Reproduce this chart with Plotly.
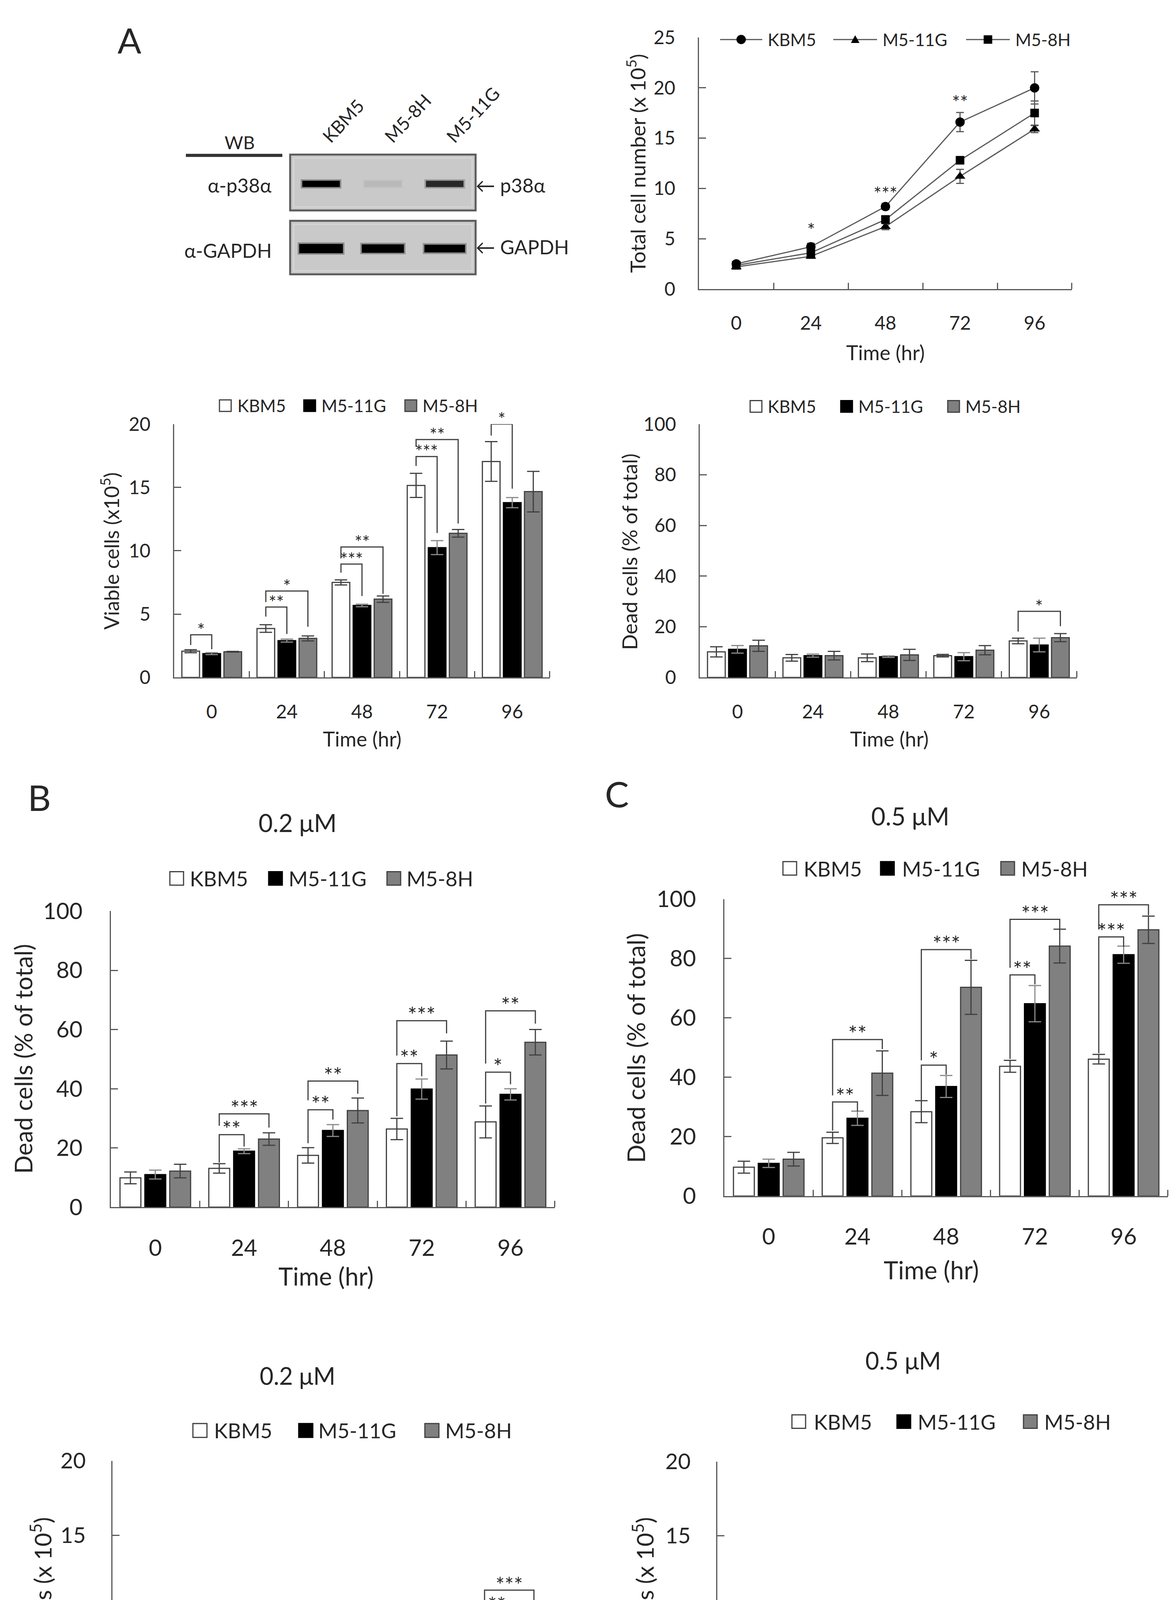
import plotly.graph_objects as go

W, H = 3009, 4775
FONT = "Lato"
INK = "#262626"
AXC = "#595959"

times = ["0", "24", "48", "72", "96"]
cells = ["KBM5", "M5-11G", "M5-8H"]
lanes = ["KBM5", "M5-8H", "M5-11G"]

# western blot: relative band strength per lane
p38_band = [1.0, 0.06, 0.75]
gapdh_band = [1.0, 1.0, 1.0]

# total cell number (x 10^5)
total_mean = [[2.5, 4.2, 8.2, 16.6, 20.0],
              [2.2, 3.25, 6.2, 11.2, 15.9],
              [2.35, 3.6, 6.9, 12.8, 17.5]]
total_err = [[0.2, 0.35, 0.3, 0.95, 1.6],
             [0.15, 0.2, 0.3, 0.7, 0.35],
             [0.2, 0.3, 0.4, 0.35, 1.2]]
total_sig = [(1, 6.2, "*"), (2, 9.8, "***"), (3, 18.9, "**")]

# viable cells, untreated (x10^5)
viable_mean = [[2.07, 3.86, 7.5, 15.16, 17.05],
               [1.88, 2.91, 5.68, 10.25, 13.8],
               [2.03, 3.08, 6.18, 11.38, 14.67]]
viable_err = [[0.12, 0.3, 0.2, 0.95, 1.57],
              [0.08, 0.12, 0.1, 0.55, 0.4],
              [0.03, 0.2, 0.25, 0.3, 1.6]]
# (time index, compared bar, bracket top, left leg end, right leg end, label)
viable_sig = [(0, 1, 3.37, 2.56, 2.23, "*"), (1, 1, 5.56, 4.8, 3.43, "**"),
              (1, 2, 6.82, 5.95, 4.0, "*"), (2, 1, 8.95, 8.27, 6.43, "***"),
              (2, 2, 10.3, 9.4, 6.6, "**"), (3, 1, 17.44, 16.7, 11.4, "***"),
              (3, 2, 18.78, 18.2, 12.15, "**"), (4, 1, 20.0, 19.1, 14.9, "*")]

# dead cells, untreated (% of total)
dead_mean = [[10.1, 7.75, 7.75, 8.6, 14.4],
             [11.1, 8.6, 8.2, 8.2, 12.8],
             [12.5, 8.6, 8.9, 10.75, 15.7]]
dead_err = [[2.0, 1.3, 1.5, 0.5, 1.1],
            [1.5, 0.6, 0.3, 1.6, 2.7],
            [2.2, 1.7, 2.2, 1.8, 1.6]]
dead_sig = [(4, 2, 26.1, 18.1, 20.25, "*")]

# dead cells, 0.2 uM
dead02_mean = [[9.9, 13.1, 17.5, 26.4, 28.8],
               [11.0, 18.9, 25.9, 39.9, 38.1],
               [12.2, 23.0, 32.65, 51.4, 55.7]]
dead02_err = [[2.0, 1.6, 2.6, 3.6, 5.4],
              [1.5, 0.8, 2.0, 3.4, 1.9],
              [2.3, 2.1, 4.2, 4.7, 4.3]]
dead02_sig = [(1, 1, 24.5, 15.1, 20.5, "**"), (1, 2, 31.5, 27.5, 26.9, "***"),
              (2, 1, 32.9, 21.6, 29.6, "**"), (2, 2, 42.6, 36.1, 38.3, "**"),
              (3, 1, 48.5, 30.7, 44.2, "**"), (3, 2, 63.0, 51.2, 58.7, "***"),
              (4, 1, 45.6, 35.0, 41.5, "*"), (4, 2, 66.3, 48.5, 62.0, "**")]

# dead cells, 0.5 uM
dead05_mean = [[9.7, 19.6, 28.4, 43.7, 46.1],
               [11.0, 26.2, 36.9, 64.8, 81.3],
               [12.4, 41.4, 70.3, 84.2, 89.7]]
dead05_err = [[2.0, 1.9, 3.7, 2.0, 1.6],
              [1.4, 2.4, 3.7, 6.1, 2.9],
              [2.3, 7.5, 9.1, 5.7, 4.6]]
dead05_sig = [(1, 1, 31.7, 22.0, 28.5, "**"), (1, 2, 52.7, 33.9, 49.5, "**"),
              (2, 1, 44.1, 32.3, 40.9, "*"), (2, 2, 83.0, 45.7, 79.8, "***"),
              (3, 1, 74.5, 46.2, 71.3, "**"), (3, 2, 93.2, 76.9, 89.8, "***"),
              (4, 1, 87.3, 48.1, 83.9, "***"), (4, 2, 98.1, 89.8, 94.6, "***")]

# viable cells, 0.2 uM
viable02_mean = [[2.16, 3.3, 5.36, 6.95, 7.86],
                 [1.95, 2.57, 3.48, 3.48, 4.09],
                 [2.11, 2.57, 3.23, 2.98, 2.57]]
viable02_err = [[0.05, 0.34, 0.45, 0.2, 1.12],
                [0.08, 0.07, 0.15, 0.5, 0.3],
                [0.02, 0.05, 0.05, 0.15, 0.1]]
viable02_sig = [(0, 1, 3.3, 2.57, 2.23, "*"), (1, 1, 4.66, 3.93, 2.9, "**"),
                (1, 2, 5.98, 5.3, 3.0, "**"), (2, 1, 6.73, 6.1, 4.05, "***"),
                (2, 2, 8.1, 7.34, 3.64, "***"), (3, 1, 8.18, 7.57, 4.16, "***"),
                (3, 2, 9.61, 8.93, 3.36, "***"), (4, 1, 9.95, 9.05, 4.5, "**"),
                (4, 2, 11.3, 10.5, 2.9, "***")]

# viable cells, 0.5 uM
viable05_mean = [[2.12, 2.96, 3.6, 3.55, 3.42],
                 [1.94, 2.12, 2.28, 1.55, 0.8],
                 [2.12, 1.89, 1.14, 0.75, 0.46]]
viable05_err = [[0.05, 0.25, 0.3, 0.74, 0.1],
                [0.07, 0.05, 0.25, 0.18, 0.07],
                [0.02, 0.28, 0.43, 0.25, 0.15]]
viable05_sig = [(0, 1, 3.21, 2.57, 2.23, "*"), (1, 1, 4.21, 3.6, 2.46, "**"),
                (1, 2, 5.6, 4.85, 2.28, "**"), (2, 1, 5.01, 4.28, 3.03, "**"),
                (2, 2, 6.4, 5.65, 1.89, "***"), (3, 1, 5.26, 4.51, 1.78, "**"),
                (3, 2, 6.63, 5.88, 1.09, "**"), (4, 1, 4.67, 3.94, 1.14, "***"),
                (4, 2, 6.06, 5.31, 0.91, "***")]

BAR_W = 0.235
OFFS = [-0.28, 0.0, 0.28]
FILLS = ["white", "black", "#808080"]
EDGES = ["#404040", "black", "#404040"]
ERRC = ["#404040", "#8a8a8a", "#404040"]


def fx(x):
    return x / W


def fy(y):
    return 1 - y / H


fig = go.Figure()
shapes = []
notes = []


def text(x, y, s, size, xanchor="center", yanchor="middle", angle=0):
    notes.append(dict(x=fx(x), y=fy(y), xref="paper", yref="paper", text=s,
                      showarrow=False, textangle=angle,
                      xanchor=xanchor, yanchor=yanchor,
                      font=dict(family=FONT, size=size, color=INK)))


def axes(i, x0, x1, top, bottom, ymax, dtick, fs, xstand, ystand):
    s = "" if i == 1 else str(i)
    tf = dict(family=FONT, size=fs, color=INK)
    fig.update_layout(**{
        "xaxis" + s: dict(domain=[fx(x0), fx(x1)], anchor="y" + s, range=[-0.5, 4.5],
                          tickmode="array", tickvals=list(range(5)), ticktext=times,
                          ticks="", showline=True, linecolor=AXC, linewidth=3,
                          showgrid=False, zeroline=False, tickfont=tf,
                          ticklabelstandoff=xstand, fixedrange=True,
                          minor=dict(tickmode="array", tickvals=[0.5, 1.5, 2.5, 3.5, 4.499],
                                     ticks="inside", ticklen=16, tickwidth=3,
                                     tickcolor=AXC, showgrid=False)),
        "yaxis" + s: dict(domain=[fy(bottom), fy(top)], anchor="x" + s, range=[0, ymax],
                          dtick=dtick, ticks="inside", ticklen=18, tickwidth=3,
                          tickcolor=AXC, showline=True, linecolor=AXC, linewidth=3,
                          showgrid=False, zeroline=False, tickfont=tf,
                          ticklabelstandoff=ystand, fixedrange=True),
    })


def bars(i, means, errs, sig, star_fs):
    s = "" if i == 1 else str(i)
    for k in range(3):
        fig.add_trace(go.Bar(
            x=list(range(5)), y=means[k], name=cells[k], showlegend=False,
            width=BAR_W, offset=OFFS[k] - BAR_W / 2,
            marker=dict(color=FILLS[k], line=dict(color=EDGES[k], width=3)),
            error_y=dict(type="data", array=errs[k], color=ERRC[k], thickness=3, width=16),
            xaxis="x" + s, yaxis="y" + s))
    for g, j, top, yl, yr, lab in sig:
        xa = g + OFFS[0]
        xb = g + OFFS[j]
        shapes.append(dict(type="path", xref="x" + s, yref="y" + s,
                           path=f"M {xa},{yl} L {xa},{top} L {xb},{top} L {xb},{yr}",
                           line=dict(color="#404040", width=3)))
        notes.append(dict(x=(xa + xb) / 2, y=top, xref="x" + s, yref="y" + s, text=lab,
                          showarrow=False, yanchor="bottom", yshift=-0.36 * star_fs,
                          font=dict(family=FONT, size=star_fs, color=INK)))


def bar_legend(yc, sq, xs_sq, xs_txt, fs):
    for k in range(3):
        shapes.append(dict(type="rect", xref="paper", yref="paper",
                           x0=fx(xs_sq[k]), x1=fx(xs_sq[k] + sq),
                           y0=fy(yc + sq / 2), y1=fy(yc - sq / 2),
                           fillcolor=FILLS[k], line=dict(color=EDGES[k], width=3)))
        text(xs_txt[k], yc, cells[k], fs, xanchor="left")


# ---------------- panel A: western blot ----------------
text(323, 58, "A", 90)
text(605, 324, "WB", 46)
shapes.append(dict(type="line", xref="paper", yref="paper", x0=fx(468), x1=fx(715),
                   y0=fy(358), y1=fy(358), line=dict(color="#333333", width=8)))
blot_x0, blot_x1 = 735, 1210
lane_w = (blot_x1 - blot_x0) / len(lanes)
for (b_top, b_bot) in [(356, 501), (528, 667)]:
    shapes.append(dict(type="rect", xref="paper", yref="paper",
                       x0=fx(blot_x0), x1=fx(blot_x1), y0=fy(b_bot), y1=fy(b_top),
                       fillcolor="#c9c9c9", line=dict(color="#5c5c5c", width=5)))
    shapes.append(dict(type="rect", xref="paper", yref="paper",
                       x0=fx(blot_x0 + 9), x1=fx(blot_x1 - 9), y0=fy(b_bot - 9), y1=fy(b_top + 9),
                       fillcolor="rgba(0,0,0,0)", line=dict(color="#d6d6d6", width=3)))
for i, lane in enumerate(lanes):
    xc = blot_x0 + lane_w * (i + 0.5)
    for yc, hw, hh, val in [(432, 48, 8, p38_band[i]), (600, 56 - 2 * i, 12 - i, gapdh_band[i])]:
        shapes.append(dict(type="rect", xref="paper", yref="paper",
                           x0=fx(xc - hw - 4), x1=fx(xc + hw + 4), y0=fy(yc + hh + 4), y1=fy(yc - hh - 4),
                           fillcolor="black", opacity=0.3 * val, line=dict(width=0)))
        shapes.append(dict(type="rect", xref="paper", yref="paper",
                           x0=fx(xc - hw), x1=fx(xc + hw), y0=fy(yc + hh), y1=fy(yc - hh),
                           fillcolor="black", opacity=val, line=dict(width=0)))
    text(xc - 10, 338, lane, 46, xanchor="left", yanchor="bottom", angle=-47)
text(690, 435, "α-p38α", 50, xanchor="right")
text(690, 605, "α-GAPDH", 50, xanchor="right")
text(1208, 435, "\u2190 p38α", 50, xanchor="left")
text(1208, 596, "\u2190 GAPDH", 50, xanchor="left")

# ---------------- panel A: total cell number ----------------
axes(1, 1782, 2737, 52, 705, 25, 5, 48, 44, 48)
markers = ["circle", "triangle-up", "square"]
msizes = [24, 24, 22]
for k in range(3):
    fig.add_trace(go.Scatter(
        x=list(range(5)), y=total_mean[k], mode="lines+markers", name=cells[k],
        showlegend=False, line=dict(color=AXC, width=3),
        marker=dict(symbol=markers[k], size=msizes[k], color="black"),
        error_y=dict(type="data", array=total_err[k], color=AXC, thickness=3, width=10),
        xaxis="x", yaxis="y"))
for g, v, lab in total_sig:
    notes.append(dict(x=g, y=v, xref="x", yref="y", text=lab, showarrow=False,
                      yshift=-8, font=dict(family=FONT, size=48, color=INK)))
line_leg = [(1836, 1944, 1956), (2126, 2238, 2250), (2466, 2578, 2590)]
for k, (a, b, t) in enumerate(line_leg):
    yc = 57
    shapes.append(dict(type="line", xref="paper", yref="paper", x0=fx(a), x1=fx(b),
                       y0=fy(yc), y1=fy(yc), line=dict(color=AXC, width=3)))
    c = (a + b) / 2
    if k == 0:
        shapes.append(dict(type="circle", xref="paper", yref="paper", x0=fx(c - 12), x1=fx(c + 12),
                           y0=fy(yc + 12), y1=fy(yc - 12), fillcolor="black", line=dict(width=0)))
    elif k == 1:
        shapes.append(dict(type="path", xref="paper", yref="paper",
                           path=f"M {fx(c - 11)},{fy(yc + 9)} L {fx(c + 11)},{fy(yc + 9)} L {fx(c)},{fy(yc - 11)} Z",
                           fillcolor="black", line=dict(width=0)))
    else:
        shapes.append(dict(type="rect", xref="paper", yref="paper", x0=fx(c - 11), x1=fx(c + 11),
                           y0=fy(yc + 11), y1=fy(yc - 11), fillcolor="black", line=dict(width=0)))
    text(t, yc, cells[k], 44, xanchor="left")
text(1620, 379, "Total cell number (x 10<sup>5</sup>)", 53, angle=-90)
text(2259, 870, "Time (hr)", 52)

# ---------------- panel A: viable / dead ----------------
axes(2, 438, 1400, 1056, 1714, 20, 5, 48, 44, 48)
bars(2, viable_mean, viable_err, viable_sig, 46)
bar_legend(1008, 30, [554, 770, 1029], [598, 813, 1072], 44)
text(274, 1386, "Viable cells (x10<sup>5</sup>)", 52, angle=-90)
text(919, 1873, "Time (hr)", 52)

axes(3, 1784, 2750, 1056, 1714, 100, 20, 48, 44, 48)
bars(3, dead_mean, dead_err, dead_sig, 46)
bar_legend(1010, 30, [1913, 2145, 2419], [1956, 2188, 2462], 44)
text(1604, 1388, "Dead cells (% of total)", 53, angle=-90)
text(2269, 1873, "Time (hr)", 52)

# ---------------- panel B / C: dead cells ----------------
text(92, 2025, "B", 92)
text(754, 2091, "0.2 μM", 63)
axes(4, 276, 1413, 2321, 3090, 100, 20, 58, 52, 58)
bars(4, dead02_mean, dead02_err, dead02_sig, 56)
bar_legend(2236, 35, [427, 680, 983], [476, 729, 1031], 53)
text(51, 2705, "Dead cells (% of total)", 62, angle=-90)
text(827, 3269, "Time (hr)", 63)

text(1572, 2016, "C", 92)
text(2323, 2073, "0.5 μM", 63)
axes(5, 1847, 2983, 2290, 3061, 100, 20, 58, 52, 58)
bars(5, dead05_mean, dead05_err, dead05_sig, 56)
bar_legend(2210, 35, [1997, 2247, 2555], [2048, 2300, 2605], 53)
text(1620, 2677, "Dead cells (% of total)", 62, angle=-90)
text(2377, 3253, "Time (hr)", 63)

# ---------------- panel B / C: viable cells ----------------
text(754, 3527, "0.2 μM", 61)
axes(6, 280, 1409, 3749, 4521, 20, 5, 56, 54, 54)
bars(6, viable02_mean, viable02_err, viable02_sig, 55)
bar_legend(3670, 36, [486, 757, 1080], [538, 805, 1130], 53)
text(97, 4139, "Viable cells (x 10<sup>5</sup>)", 60, angle=-90)
text(845, 4713, "Time (hr)", 63)

text(2305, 3488, "0.5 μM", 61)
axes(7, 1829, 2959, 3751, 4521, 20, 5, 56, 54, 54)
bars(7, viable05_mean, viable05_err, viable05_sig, 55)
bar_legend(3647, 35, [2020, 2289, 2613], [2074, 2340, 2664], 53)
text(1639, 4139, "Viable cells (x 10<sup>5</sup>)", 60, angle=-90)
text(2393, 4713, "Time (hr)", 63)

fig.update_layout(
    width=W, height=H, margin=dict(l=0, r=0, t=0, b=0),
    paper_bgcolor="white", plot_bgcolor="rgba(0,0,0,0)",
    barmode="overlay", showlegend=False,
    font=dict(family=FONT, color=INK),
    shapes=shapes, annotations=notes,
)

fig.write_html("out.html")
